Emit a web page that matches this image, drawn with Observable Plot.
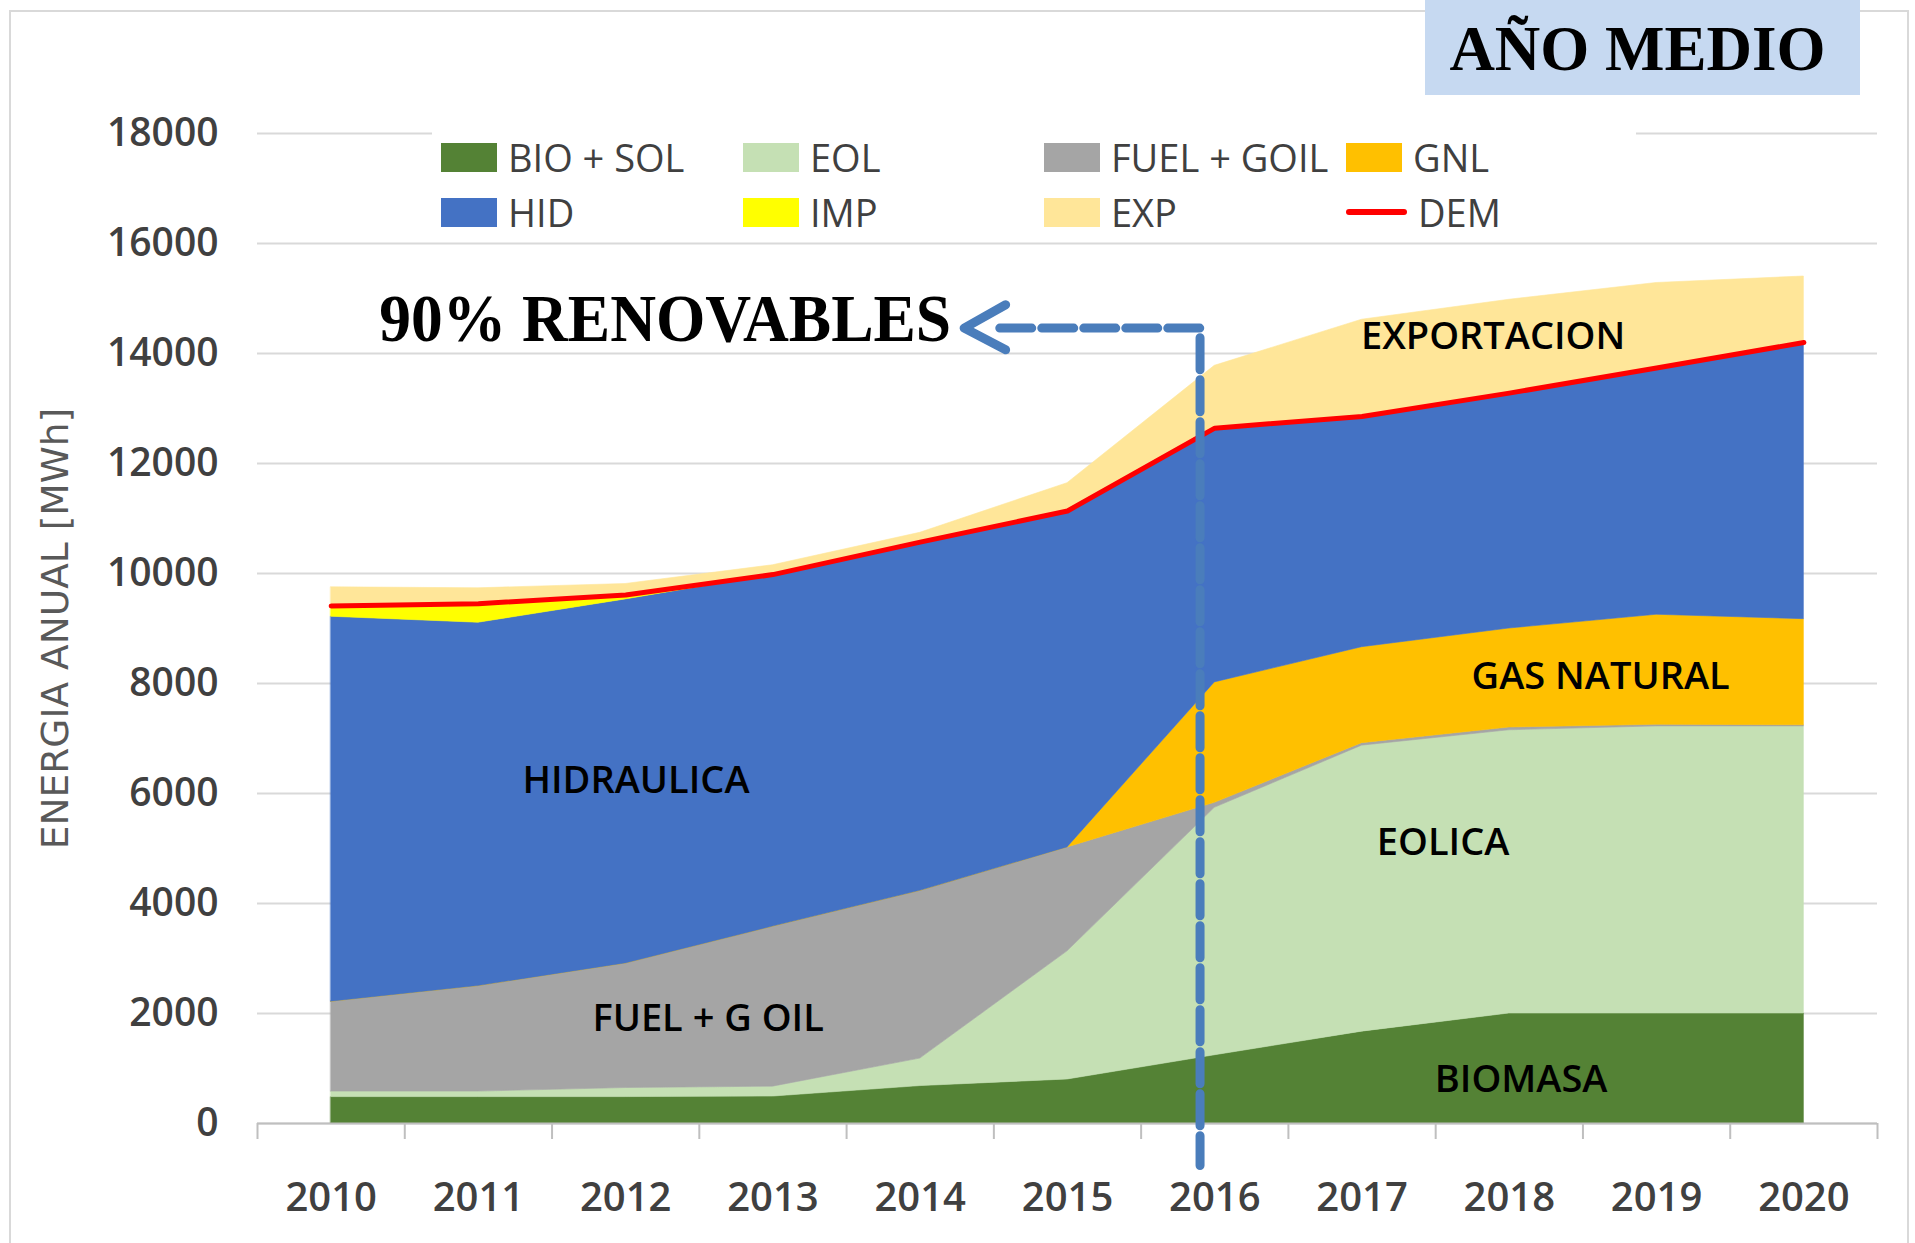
<!DOCTYPE html>
<html><head><meta charset="utf-8">
<script src="https://cdn.jsdelivr.net/npm/d3@7"></script>
<script src="https://cdn.jsdelivr.net/npm/@observablehq/plot@0.6"></script>
<style>
html,body{margin:0;padding:0;background:#fff;overflow:hidden;}
#wrap{position:relative;width:1915px;height:1243px;overflow:hidden;}
#chart{position:absolute;left:0;top:0;}
.frame{position:absolute;left:9px;top:10px;width:1896px;height:1300px;border:2px solid #d9d9d9;pointer-events:none;}
.title{position:absolute;left:1425px;top:0;width:435px;height:95px;background:#c6d9f1;font-family:"Liberation Serif","Times New Roman",serif;font-weight:bold;font-size:63px;color:#000;line-height:94px;text-align:center;padding-top:2px;box-sizing:border-box;padding-right:10px;}
.legend{position:absolute;left:432px;top:122px;width:1204px;height:113px;background:#fff;}
.item{position:absolute;height:30px;display:flex;align-items:center;font-family:"Open Sans",sans-serif;font-size:38px;font-weight:500;color:#404040;white-space:nowrap;}
.sw{display:inline-block;width:56px;height:29px;flex:none;}
.ln{display:inline-block;width:61px;height:6px;flex:none;border-radius:3px;}
.lab{margin-left:11px;line-height:30px;}
</style>
</head><body>
<div id="wrap"><div id="chart"></div><div class="frame"></div><div class="legend" id="legend"></div><div class="title">AÑO MEDIO</div></div>
<script>
// ---- data ----
const years = [2010, 2011, 2012, 2013, 2014, 2015, 2016, 2017, 2018, 2019, 2020];
const types = ["BIO + SOL", "EOL", "FUEL + GOIL", "GNL", "HID", "IMP", "EXP"];
const colors = ["#548235", "#c5e0b4", "#a5a5a5", "#ffc000", "#4472c4", "#ffff00", "#ffe699"];
const bioSol   = [480, 480, 480, 490, 680, 800, 1240, 1670, 2000, 2000, 2000];
const eol      = [100, 100, 165, 180, 500, 2330, 4500, 5200, 5150, 5220, 5220];
const fuelGoil = [1635, 1920, 2265, 2910, 3050, 1890, 90, 45, 50, 30, 20];
const gnl      = [0, 0, 0, 0, 0, 0, 2190, 1745, 1800, 2000, 1930];
const hid      = [6999, 6605, 6619, 6400, 6340, 6117, 4623, 4195, 4280, 4485, 5030];
const imp      = [195, 346, 80, 0, 0, 0, 0, 0, 0, 0, 0];
const exp      = [340, 280, 200, 170, 170, 505, 1133, 1759, 1697, 1547, 1200];
const dem      = [9409, 9451, 9609, 9980, 10570, 11137, 12643, 12855, 13280, 13735, 14200];
const demLabel = "DEM";
const demColor = "#ff0000";
const yTicks = [0, 2000, 4000, 6000, 8000, 10000, 12000, 14000, 16000, 18000];
const yTitle = "ENERGIA ANUAL [MWh]";
const areaLabels = ["HIDRAULICA", "FUEL + G OIL", "EXPORTACION", "GAS NATURAL", "EOLICA", "BIOMASA"];
const noteText = "90% RENOVABLES";

// ---- build tables ----
const series = [bioSol, eol, fuelGoil, gnl, hid, imp, exp];
const rows = [];
series.forEach((vals, i) => years.forEach((yr, j) => rows.push({year: yr, type: types[i], value: vals[j]})));
const demRows = years.map((yr, j) => ({year: yr, value: dem[j]}));
const boundaries = [...years.map(y => y - 0.5), years[years.length - 1] + 0.5];

// annotation anchors (data coordinates)
const labelPos = [
  {x: 2012.07, y: 6230}, {x: 2012.56, y: 1910}, {x: 2017.89, y: 14300},
  {x: 2018.62, y: 8117}, {x: 2017.55, y: 5096}, {x: 2018.08, y: 790}
];
const labels = areaLabels.map((t, i) => ({text: t, ...labelPos[i]}));
const dashPath = [{x: 2014.54, y: 14462}, {x: 2015.9, y: 14462}, {x: 2015.9, y: -764}];
const headPath = [{x: 2014.58, y: 14886}, {x: 2014.298, y: 14462}, {x: 2014.58, y: 14067}];

const chart = Plot.plot({
  width: 1915, height: 1243,
  marginLeft: 257, marginRight: 38, marginTop: 133, marginBottom: 120,
  x: {domain: [2009.5, 2020.5]},
  y: {domain: [0, 18000]},
  color: {domain: types, range: colors},
  style: {background: "transparent", fontFamily: "Open Sans", color: "#404040", overflow: "visible"},
  marks: [
    Plot.gridY({ticks: yTicks, stroke: "#d9d9d9", strokeOpacity: 1, strokeWidth: 2}),
    Plot.areaY(rows, {x: "year", y: "value", z: "type", fill: "type", stroke: "type", strokeWidth: 0.6, order: types, curve: "linear"}),
    Plot.lineY(demRows, {x: "year", y: "value", stroke: demColor, strokeWidth: 5}),
    Plot.ruleY([0], {stroke: "#bfbfbf", strokeWidth: 2}),
    Plot.axisX({ticks: boundaries, tickSize: 16, tickFormat: () => "", stroke: "#bfbfbf", strokeWidth: 2, label: null}),
    Plot.axisX({ticks: years, tickSize: 0, tickPadding: 59, tickFormat: d => String(d), fontSize: 40, fontWeight: 600, fill: "#404040", label: null}),
    Plot.axisY({ticks: yTicks, tickSize: 0, tickPadding: 39, tickFormat: d3.format("d"), fontSize: 39, fontWeight: 600, fill: "#404040", label: null}),
    Plot.text([yTitle], {text: d => d, frameAnchor: "left", textAnchor: "middle", dx: -202, rotate: -90, fontSize: 37.5, fontFamily: "DejaVu Sans", fill: "#595959"}),
    Plot.text(labels, {x: "x", y: "y", text: "text", fontSize: 38, fontWeight: 600, fontFamily: "Open Sans", fill: "#000"}),
    Plot.line(dashPath, {x: "x", y: "y", stroke: "#4a7dbb", strokeWidth: 9, strokeDasharray: "32,10"}),
    Plot.line(headPath, {x: "x", y: "y", stroke: "#4a7dbb", strokeWidth: 9, strokeLinecap: "round", strokeLinejoin: "round"}),
    Plot.text([noteText], {text: d => d, x: () => 2014.21, y: () => 14620, textAnchor: "end", fontSize: 68, fontWeight: "bold", fontFamily: "Liberation Serif", fill: "#000"})
  ]
});
document.getElementById("chart").appendChild(chart);
d3.select(chart).selectAll("text").filter(function() { return this.textContent === noteText; })
  .attr("textLength", 572).attr("lengthAdjust", "spacingAndGlyphs");

// ---- legend ----
const legendItems = [...types.map((t, i) => ({label: t, color: colors[i], line: false})), {label: demLabel, color: demColor, line: true}];
const colX = [9, 311, 612, 914];
const rowY = [20, 75];
const leg = document.getElementById("legend");
legendItems.forEach((it, i) => {
  const d = document.createElement("div");
  d.className = "item";
  d.style.left = colX[i % 4] + "px";
  d.style.top = rowY[Math.floor(i / 4)] + "px";
  const s = document.createElement("span");
  s.className = it.line ? "ln" : "sw";
  s.style.background = it.color;
  const l = document.createElement("span");
  l.className = "lab";
  l.textContent = it.label;
  d.appendChild(s); d.appendChild(l);
  leg.appendChild(d);
});
</script>
</body></html>
